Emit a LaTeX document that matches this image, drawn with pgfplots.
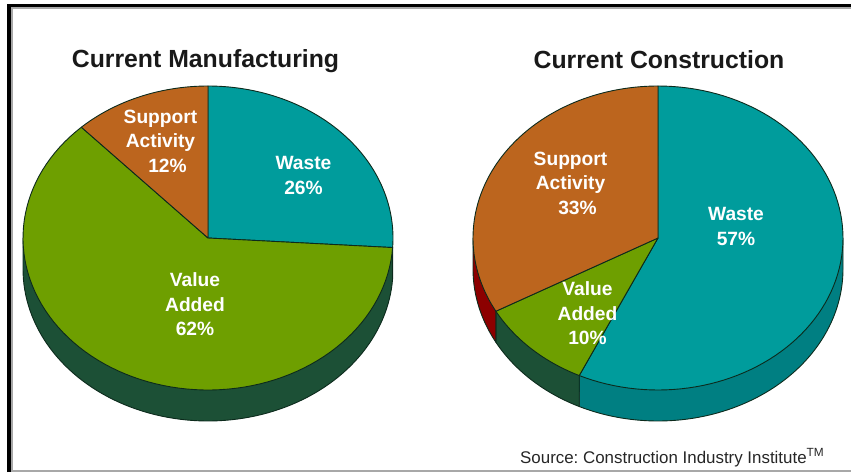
\documentclass[border=0pt]{standalone}
\usepackage{pgfplots}
\pgfplotsset{compat=1.18}
\usepackage{fontspec}
\setmainfont{Liberation Sans}
\frenchspacing

\definecolor{wasteTop}{HTML}{009C9C}
\definecolor{wasteSide}{HTML}{007F82}
\definecolor{valueTop}{HTML}{6E9F00}
\definecolor{valueSide}{HTML}{1C5036}
\definecolor{supportTop}{HTML}{BC651E}
\definecolor{supportSide}{HTML}{8C0000}
\definecolor{rimLine}{HTML}{0C2A1C}
\definecolor{frameGrey}{HTML}{A8A8A8}

% Pie geometry in picture units
\def\rx{185}
\def\ry{152}
\def\depth{31}
\def\cy{238}

% top face of a slice: centre x, first and last cumulative percentage, colour
\newcommand{\slicetop}[4]{%
  \addplot[draw=rimLine, line width=0.9pt, fill=#4, domain=#2:#3, samples=90, variable=\t, line join=round]
    ({#1+\rx*sin(3.6*\t)},{\cy-\ry*cos(3.6*\t)})
    -- (axis cs:#1,\cy) -- cycle;
}
% visible wall of a slice, painted before the top faces
\newcommand{\slicewall}[4]{%
  \addplot[draw=rimLine, line width=0.9pt, fill=#4, domain=#2:#3, samples=90, variable=\t, line join=round]
    ({#1+\rx*sin(3.6*\t)},{\cy+\depth-\ry*cos(3.6*\t)})
    -- (axis cs:{#1+\rx*sin(3.6*#3)},{\cy-\ry*cos(3.6*#3)})
    -- (axis cs:#1,\cy)
    -- (axis cs:{#1+\rx*sin(3.6*#2)},{\cy-\ry*cos(3.6*#2)}) -- cycle;
}

\begin{document}
\begin{tikzpicture}
% fixed page area, so that the border lines do not move it
\path[use as bounding box] (0,0) rectangle (851pt,472pt);
\begin{axis}[
  at={(0,0)}, anchor=south west,
  scale only axis, width=851pt, height=472pt,
  xmin=0, xmax=851, ymin=0, ymax=472, y dir=reverse,
  axis lines=none, clip=true,
  every axis plot/.append style={forget plot},
]
% panel border
\addplot[frameGrey, line width=2pt] coordinates {(12,472) (12,8) (851,8)};
\addplot[frameGrey, line width=2pt] coordinates {(12,471) (851,471)};
\addplot[black, line width=3.5pt] coordinates {(9,472) (9,5.5) (851,5.5)};

% Current Manufacturing: Waste 26, Support Activity 12, Value Added 62
\slicewall{208}{26}{75}{valueSide}
\slicetop{208}{0}{26}{wasteTop}
\slicetop{208}{26}{88}{valueTop}
\slicetop{208}{88}{100}{supportTop}

% Current Construction: Waste 57, Value Added 10, Support Activity 33
\slicewall{658}{25}{57}{wasteSide}
\slicewall{658}{57}{67}{valueSide}
\slicewall{658}{67}{75}{supportSide}
\slicetop{658}{0}{57}{wasteTop}
\slicetop{658}{57}{67}{valueTop}
\slicetop{658}{67}{100}{supportTop}

% titles and captions
\node[anchor=base, inner sep=0pt, font=\fontsize{24.8}{28}\selectfont\bfseries, text=black!90] at (axis cs:205.5,67.5) {Current Manufacturing};
\node[anchor=base, inner sep=0pt, font=\fontsize{24.8}{28}\selectfont\bfseries, text=black!90] at (axis cs:659,68) {Current Construction};

\tikzset{slice label/.style={font=\fontsize{19.2}{24.5}\selectfont\bfseries, text=white, align=center, inner sep=0pt}}
\node[slice label] at (axis cs:303.5,175.5) {Waste\\26\%};
\node[slice label] at (axis cs:160.5,141) {Support\\Activity\\\hspace*{14pt}12\%};
\node[slice label] at (axis cs:195,304.5) {Value\\Added\\62\%};
\node[slice label] at (axis cs:736,226.5) {Waste\\57\%};
\node[slice label] at (axis cs:570.5,183) {Support\\Activity\\\hspace*{14pt}33\%};
\node[slice label] at (axis cs:587.5,313.5) {Value\\Added\\10\%};

\node[anchor=base west, inner sep=0pt, font=\fontsize{16.9}{19}\selectfont, text=black!85] at (axis cs:520,463)
  {Source: Construction Industry Institute\textsuperscript{TM}};
\end{axis}
\end{tikzpicture}
\end{document}
